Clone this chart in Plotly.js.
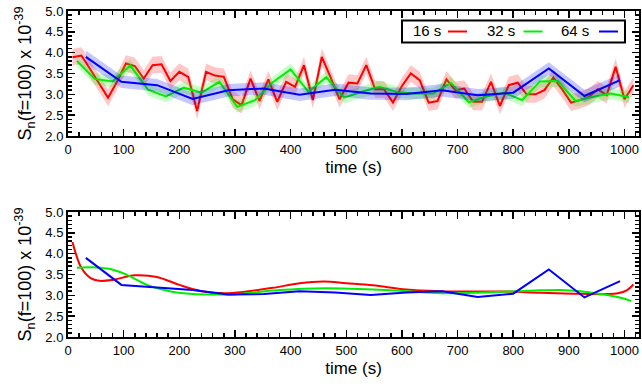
<!DOCTYPE html>
<html><head><meta charset="utf-8">
<script src="https://cdn.plot.ly/plotly-3.0.1.min.js"></script>
<style>html,body{margin:0;padding:0;background:#fff}#chart{width:642px;height:389px}</style>
</head><body><div id="chart"></div>
<script>
// ---- data ----
const seriesNames = ['16 s', '32 s', '64 s'];

const t16 = [8,24,40,56,72,88,104,120,136,152,168,184,200,216,232,248,264,280,296,312,328,344,360,376,392,408,424,440,456,472,488,504,520,536,552,568,584,600,616,632,648,664,680,696,712,728,744,760,776,792,808,824,840,856,872,888,904,920,936,952,968,984,1000,1016];
const v16 = [3.89,3.93,3.60,3.25,2.92,3.30,3.74,3.68,3.38,3.70,3.72,3.32,3.54,3.42,2.60,3.54,3.45,3.42,2.88,2.74,3.38,2.84,3.36,2.82,3.30,3.18,3.70,2.86,3.90,3.40,2.88,3.28,3.26,3.70,3.12,3.12,2.80,3.20,3.50,3.34,2.80,2.84,3.36,3.10,3.14,2.82,2.82,3.30,2.72,3.22,3.28,3.00,3.00,3.10,3.40,3.12,2.80,2.86,2.94,3.12,2.98,3.66,2.88,3.22];

const t32 = [16,48,80,112,144,176,208,240,272,304,336,368,400,432,464,496,528,560,592,624,656,688,720,752,784,816,848,880,912,944,976,1008];
const v32 = [3.80,3.37,3.31,3.69,3.11,2.95,3.16,3.04,3.30,2.70,2.86,3.29,3.60,3.06,3.41,2.92,3.06,3.18,3.05,3.02,3.02,3.28,2.81,2.95,3.04,2.86,3.31,3.32,2.84,2.94,3.02,2.93];

const t64 = [32,96,160,224,288,352,416,480,544,608,672,736,800,864,928,992];
const v64 = [3.90,3.30,3.22,2.89,3.10,3.14,2.99,3.11,3.02,3.01,3.10,2.98,3.04,3.62,2.96,3.34];

// half-width of the shaded uncertainty bands
const err16 = 0.20, err32 = 0.14, err64 = 0.15;

// smoothed curves (bottom panel)
const ts16 = [8,24,40,56,80,120,160,200,240,280,320,368,416,460,500,548,608,668,728,788,848,908,968,988,1004,1016];
const s16  = [4.28,3.66,3.42,3.35,3.37,3.48,3.44,3.25,3.10,3.05,3.09,3.18,3.29,3.33,3.29,3.24,3.14,3.10,3.09,3.09,3.06,3.04,3.03,3.05,3.12,3.26];
const ts32 = [16,50,76,106,142,183,225,260,300,327,375,423,465,507,549,609,669,729,789,849,885,921,957,993,1012];
const s32  = [3.66,3.67,3.63,3.49,3.25,3.10,3.03,3.02,3.02,3.06,3.12,3.16,3.17,3.16,3.14,3.10,3.05,3.06,3.09,3.12,3.13,3.10,3.03,2.94,2.86];
const sb64 = [3.90,3.25,3.19,3.13,3.02,3.03,3.10,3.07,3.01,3.07,3.10,2.96,3.04,3.62,2.95,3.34];

const xTickVals = [0,100,200,300,400,500,600,700,800,900,1000];
const yTickVals = [2.0,2.5,3.0,3.5,4.0,4.5,5.0];

// ---- styling ----
const FONT = 'Liberation Sans, Arial, Helvetica, sans-serif';
const lineColors = ['#ff0000', '#00ee00', '#0000ff'];
const bandColors = ['rgba(255,0,0,0.22)', 'rgba(0,255,0,0.22)', 'rgba(0,0,255,0.22)'];

const topSeries = [[t16, v16, err16], [t32, v32, err32], [t64, v64, err64]];
const traces = [];
topSeries.forEach(([t, v, e], i) => {
  traces.push({x: t, y: v.map(y => y + e), xaxis: 'x', yaxis: 'y', mode: 'lines',
    line: {width: 0, color: bandColors[i]}, hoverinfo: 'skip', showlegend: false});
  traces.push({x: t, y: v.map(y => y - e), xaxis: 'x', yaxis: 'y', mode: 'lines',
    line: {width: 0, color: bandColors[i]}, fill: 'tonexty', fillcolor: bandColors[i],
    hoverinfo: 'skip', showlegend: false});
  traces.push({x: t, y: v, xaxis: 'x', yaxis: 'y', mode: 'lines', name: seriesNames[i],
    line: {width: 2, color: lineColors[i]}, showlegend: false});
});
const bottomSeries = [[ts16, s16, 'spline'], [ts32, s32, 'spline'], [t64, sb64, 'linear']];
bottomSeries.forEach(([t, v, shape], i) => {
  traces.push({x: t, y: v, xaxis: 'x2', yaxis: 'y2', mode: 'lines', name: seriesNames[i],
    line: {width: 2, color: lineColors[i], shape: shape, smoothing: 1}, showlegend: false});
});

const W = 642, H = 389, ML = 68, MR = 3, MT = 11, MB = 52;
const PW = W - ML - MR, PH = H - MT - MB;
const px = x => (x - ML) / PW;
const py = y => (H - MB - y) / PH;

function xAxis(anchor, title) {
  return {
    anchor: anchor, domain: [0, 1], range: [0, 1026],
    tickmode: 'array', tickvals: xTickVals, ticktext: xTickVals.map(String),
    showline: true, linecolor: '#000', linewidth: 2, mirror: 'allticks',
    ticks: 'inside', ticklen: 7, tickwidth: 1.5, tickcolor: '#000',
    minor: {dtick: 20, tick0: 0, ticks: 'inside', ticklen: 4, tickwidth: 1.5, tickcolor: '#000'},
    showgrid: false, zeroline: false,
    tickfont: {family: FONT, size: 13, color: '#000'},
    title: {text: title, font: {family: FONT, size: 17, color: '#000'}, standoff: 6}
  };
}
function yAxis(anchor, domain) {
  return {
    anchor: anchor, domain: domain, range: [2, 5],
    tickmode: 'array', tickvals: yTickVals, ticktext: yTickVals.map(v => v.toFixed(1)),
    showline: true, linecolor: '#000', linewidth: 2, mirror: 'allticks',
    ticks: 'inside', ticklen: 7, tickwidth: 1.5, tickcolor: '#000',
    minor: {dtick: 0.1, tick0: 2, ticks: 'inside', ticklen: 4, tickwidth: 1.5, tickcolor: '#000'},
    showgrid: false, zeroline: false,
    tickfont: {family: FONT, size: 13, color: '#000'},
    title: {text: 'S<sub>n</sub>(f=100) x 10<sup>-39</sup>', font: {family: FONT, size: 18, color: '#000'}, standoff: 9}
  };
}

// custom legend: text followed by a line sample
const shapes = [{type: 'rect', xref: 'paper', yref: 'paper', x0: px(402), x1: px(625), y0: py(42.5), y1: py(20.5),
  line: {color: '#000', width: 2}, fillcolor: '#fff', layer: 'above'}];
const annotations = [];
seriesNames.forEach((n, i) => {
  annotations.push({xref: 'paper', yref: 'paper', x: px(427 + i * 74), y: py(30), text: n, showarrow: false,
    xanchor: 'center', yanchor: 'middle', font: {family: FONT, size: 15, color: '#000'}});
  const x0 = 448 + i * 75.5;
  shapes.push({type: 'line', xref: 'paper', yref: 'paper', x0: px(x0), x1: px(x0 + 19), y0: py(31.5), y1: py(31.5),
    line: {color: lineColors[i], width: 2}, layer: 'above'});
});

const layout = {
  width: W, height: H, margin: {l: ML, r: MR, t: MT, b: MB},
  paper_bgcolor: '#fff', plot_bgcolor: '#fff', showlegend: false,
  font: {family: FONT, color: '#000'},
  xaxis: xAxis('y', 'time (s)'),
  yaxis: yAxis('x', [201 / PH, 1]),
  xaxis2: xAxis('y2', 'time (s)'),
  yaxis2: yAxis('x2', [0, 125 / PH]),
  shapes: shapes, annotations: annotations
};
Plotly.newPlot('chart', traces, layout, {staticPlot: true, displayModeBar: false});
</script>
</body></html>
